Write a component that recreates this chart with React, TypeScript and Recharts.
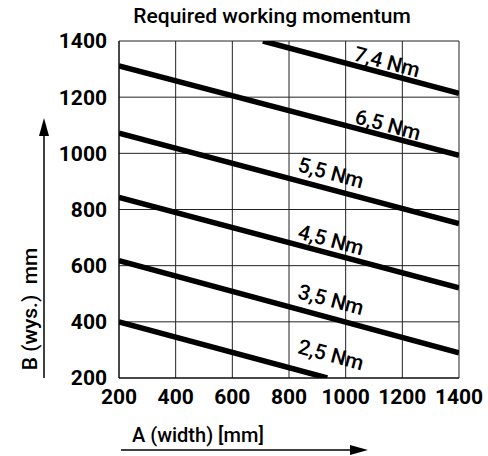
import { LineChart, Line, XAxis, YAxis, CartesianGrid, ReferenceDot } from "recharts";

type Pt = { a: number; b: number };

const A_TICKS = [200, 400, 600, 800, 1000, 1200, 1400];
const B_TICKS = [200, 400, 600, 800, 1000, 1200, 1400];

// momentum lines, B (height) against A (width)
const NM_25: Pt[] = [{ a: 200, b: 400 }, { a: 935, b: 200 }];
const NM_35: Pt[] = [{ a: 200, b: 618 }, { a: 1400, b: 290 }];
const NM_45: Pt[] = [{ a: 200, b: 843 }, { a: 1400, b: 521 }];
const NM_55: Pt[] = [{ a: 200, b: 1072 }, { a: 1400, b: 750 }];
const NM_65: Pt[] = [{ a: 200, b: 1311 }, { a: 1400, b: 993 }];
const NM_74: Pt[] = [{ a: 708, b: 1400 }, { a: 1400, b: 1214 }];

const LINE_NAMES = ["2,5 Nm", "3,5 Nm", "4,5 Nm", "5,5 Nm", "6,5 Nm", "7,4 Nm"];
const LINE_DATA = [NM_25, NM_35, NM_45, NM_55, NM_65, NM_74];
// where each line's name sits (data units)
const LABEL_A = [948, 948, 948, 948, 1149, 1146];
const LABEL_B = [282, 478, 691, 930, 1101, 1325];

const FONT = 'Roboto, "Liberation Sans", Arial, sans-serif';

type LabelProps = { viewBox?: { cx?: number; cy?: number; x?: number; y?: number }; value?: string };

function SlopedLabel({ viewBox, value }: LabelProps) {
  const cx = viewBox?.cx ?? viewBox?.x ?? 0;
  const cy = viewBox?.cy ?? viewBox?.y ?? 0;
  return (
    <text
      x={cx}
      y={cy}
      transform={`rotate(15 ${cx} ${cy})`}
      textAnchor="middle"
      dominantBaseline="central"
      fontFamily={FONT}
      fontSize={21}
      fontWeight={500}
      fill="#000"
    >
      {value}
    </text>
  );
}

export default function App() {
  return (
    <div style={{ position: "absolute", left: 0, top: 0, width: 488, height: 456, background: "#fff", fontFamily: FONT }}>
      <LineChart width={488} height={456} margin={{ top: 41, right: 29, bottom: 0, left: 0 }}>
        <CartesianGrid stroke="#222" strokeWidth={1} vertical horizontal />
        <XAxis
          type="number"
          dataKey="a"
          domain={[200, 1400]}
          ticks={A_TICKS}
          allowDataOverflow
          height={78}
          tickLine={false}
          axisLine={{ stroke: "#000" }}
          tick={{ fill: "#000", fontSize: 21, fontWeight: 700, fontFamily: FONT }}
          tickMargin={5}
          interval={0}
        />
        <YAxis
          type="number"
          dataKey="b"
          domain={[200, 1400]}
          ticks={B_TICKS}
          allowDataOverflow
          width={119}
          tickLine={false}
          axisLine={{ stroke: "#000" }}
          tick={{ fill: "#000", fontSize: 21, fontWeight: 700, fontFamily: FONT }}
          tickMargin={6}
          interval={0}
        />
        {LINE_DATA.map((d, i) => (
          <Line
            key={LINE_NAMES[i]}
            data={d}
            dataKey="b"
            type="linear"
            stroke="#000"
            strokeWidth={5.5}
            dot={false}
            activeDot={false}
            isAnimationActive={false}
          />
        ))}
        {LINE_NAMES.map((name, i) => (
          <ReferenceDot
            key={"lbl" + name}
            x={LABEL_A[i]}
            y={LABEL_B[i]}
            r={0}
            fill="none"
            stroke="none"
            label={<SlopedLabel value={name} />}
          />
        ))}
      </LineChart>
      <svg width={488} height={456} style={{ position: "absolute", left: 0, top: 0, pointerEvents: "none" }}>
        <text x={272} y={23} textAnchor="middle" fontFamily={FONT} fontSize={21} fontWeight={500} fill="#000">
          Required working momentum
        </text>
        <text
          x={30}
          y={309}
          transform="rotate(-90 30 309)"
          textAnchor="middle"
          dominantBaseline="central"
          fontFamily={FONT}
          fontSize={21}
          fontWeight={500}
          fill="#000"
        >
          {"B (wys.)\u00a0\u00a0mm"}
        </text>
        <line x1={44} y1={378} x2={44} y2={132} stroke="#000" strokeWidth={1.5} />
        <polygon points="44,118 39,136 49,136" fill="#000" />
        <text x={132} y={442} fontFamily={FONT} fontSize={20} fontWeight={500} fill="#000">
          A (width) [mm]
        </text>
        <line x1={121} y1={450} x2={354} y2={450} stroke="#000" strokeWidth={1.5} />
        <polygon points="368,450 350,445 350,455" fill="#000" />
      </svg>
    </div>
  );
}
